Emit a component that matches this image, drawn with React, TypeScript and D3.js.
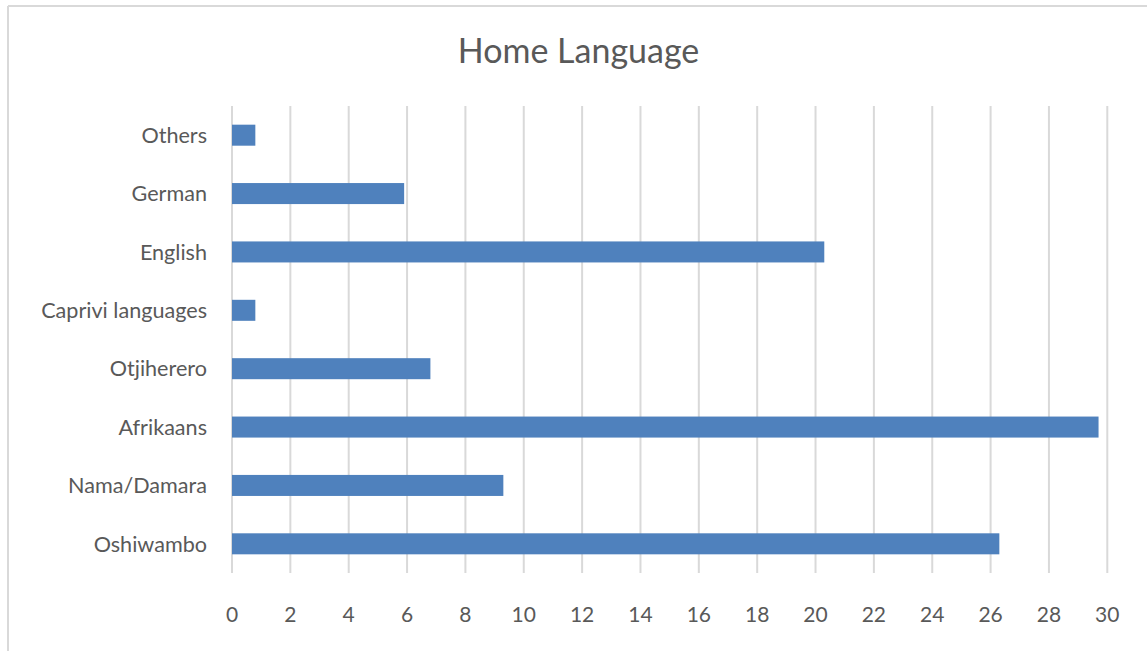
import React from "react";
import * as d3 from "d3";

const categories = ["Oshiwambo", "Nama/Damara", "Afrikaans", "Otjiherero", "Caprivi languages", "English", "German", "Others"];
const values = [26.3, 9.3, 29.7, 6.8, 0.8, 20.3, 5.9, 0.8];
const xTicks = [0, 2, 4, 6, 8, 10, 12, 14, 16, 18, 20, 22, 24, 26, 28, 30];
const title = "Home Language";

const W = 1147;
const H = 651;
const FONT = "Lato, 'Open Sans', sans-serif";
const TEXT = "#595959";

export default function App() {
  const left = 232;
  const right = 1107.3;
  const top = 106;
  const bottom = 573;

  const x = d3.scaleLinear().domain([0, 30]).range([left, right]);
  const y = d3
    .scaleBand<string>()
    .domain([...categories].reverse())
    .range([top, bottom])
    .paddingInner(0.64)
    .paddingOuter(0.32);

  return (
    <div style={{ position: "fixed", left: 0, top: 0, width: W, height: H, background: "#fff" }}>
      <svg width={W} height={H} style={{ display: "block" }}>
        <rect x={0} y={0} width={W} height={H} fill="#fff" />
        <line x1={8} y1={6} x2={W} y2={6} stroke="#d9d9d9" strokeWidth={2} />
        <line x1={8} y1={6} x2={8} y2={H} stroke="#d9d9d9" strokeWidth={2} />
        <text x={578.5} y={63} textAnchor="middle" fontFamily={FONT} fontSize={34} fill={TEXT}>
          {title}
        </text>
        {xTicks.map((t) => (
          <line key={"g" + t} x1={x(t)} x2={x(t)} y1={top} y2={bottom} stroke="#d9d9d9" strokeWidth={2} />
        ))}
        {categories.map((c, i) => (
          <rect
            key={c}
            x={x(0)}
            y={y(c)!}
            width={x(values[i]) - x(0)}
            height={y.bandwidth()}
            fill="#4f81bd"
          />
        ))}
        {xTicks.map((t) => (
          <text key={"t" + t} x={x(t)} y={622} textAnchor="middle" fontFamily={FONT} fontSize={21} fill={TEXT}>
            {t}
          </text>
        ))}
        {categories.map((c) => (
          <text
            key={"l" + c}
            x={207}
            y={y(c)! + y.bandwidth() / 2}
            dy="0.36em"
            textAnchor="end"
            fontFamily={FONT}
            fontSize={21.6}
            fill={TEXT}
          >
            {c}
          </text>
        ))}
      </svg>
    </div>
  );
}
